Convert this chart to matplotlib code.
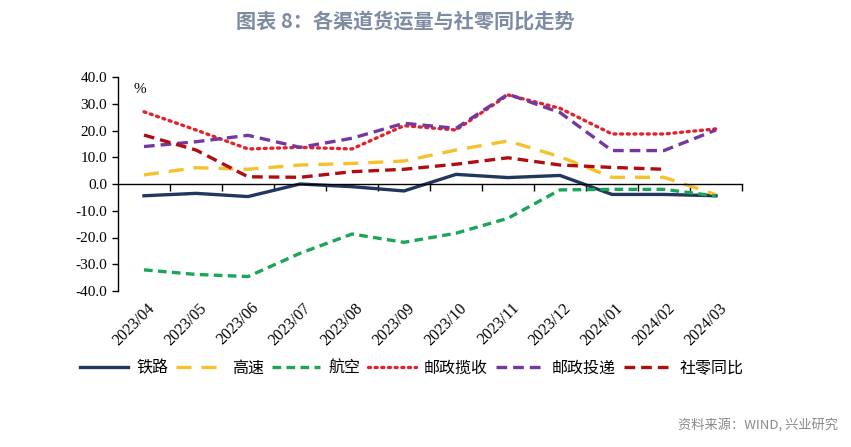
import numpy as np
import matplotlib
matplotlib.use('Agg')
import matplotlib.pyplot as plt

plt.rcParams['font.family'] = ['Noto Sans CJK SC', 'DejaVu Sans']

# Data (%).
months = ['2023/04', '2023/05', '2023/06', '2023/07', '2023/08', '2023/09',
          '2023/10', '2023/11', '2023/12', '2024/01', '2024/02', '2024/03']
railway = [-4.4, -3.5, -4.7, 0.0, -1.0, -2.6, 3.6, 2.4, 3.2, -3.9, -3.9, -4.4]
highway = [3.4, 6.1, 5.5, 7.1, 7.7, 8.6, 12.7, 16.1, 10.2, 2.5, 2.5, -4.0]
aviation = [-32.1, -33.8, -34.6, -25.9, -18.7, -21.8, -18.4, -12.8, -2.2, -2.0, -2.0, -4.5]
post_collect = [27.0, 20.2, 13.1, 13.7, 13.1, 21.8, 20.2, 33.3, 28.3, 18.7, 18.7, 20.6]
post_deliver = [14.0, 15.8, 18.2, 13.7, 17.1, 22.7, 20.8, 33.6, 26.7, 12.5, 12.5, 20.2]
retail = [18.3, 12.7, 2.7, 2.5, 4.6, 5.5, 7.4, 9.8, 7.1, 6.2, 5.5, np.nan]

x = np.arange(len(months))

fig = plt.figure(figsize=(8.51, 4.47), dpi=100)
ax = fig.add_axes([118/851, 1 - 291/447, (742 - 118)/851, (291 - 77)/447])

lw = 2.4
ax.plot(x, railway, color='#22375e', lw=lw, label='铁路')
ax.plot(x, highway, color='#f6c12b', lw=lw, dashes=(4.5, 3), label='高速')
ax.plot(x, aviation, color='#1aa656', lw=lw, dashes=(2.6, 1.6), label='航空')
ax.plot(x, post_collect, color='#e3222b', lw=lw, dashes=(0.6, 1.4),
        dash_capstyle='round', label='邮政揽收')
ax.plot(x, post_deliver, color='#7438a0', lw=lw, dashes=(3.2, 1.8), label='邮政投递')
ax.plot(x, retail, color='#b00d10', lw=lw, dashes=(3.2, 1.8), label='社零同比')

# Axes styling.
ax.set_xlim(-0.5, len(months) - 0.5)
ax.set_ylim(-40, 40)
ax.set_yticks(np.arange(-40, 41, 10))
ax.set_yticklabels([f'{v:.1f}' for v in np.arange(-40, 41, 10)],
                   family='Liberation Serif', fontsize=11)
ax.tick_params(axis='y', direction='out', length=4, width=1, pad=4)
for s in ['top', 'right']:
    ax.spines[s].set_visible(False)
ax.spines['bottom'].set_position(('data', 0))
ax.spines['left'].set_linewidth(1)
ax.spines['bottom'].set_linewidth(1)
ax.set_xticks(np.arange(len(months)) + 0.5)
ax.set_xticklabels([])
ax.tick_params(axis='x', direction='out', length=5, width=1)

# Category labels under the plot area.
for i, m in enumerate(months):
    ax.annotate(m, xy=(i, -40), xytext=(3, -9), textcoords='offset pixels',
                rotation=45, ha='right', va='top', rotation_mode='anchor',
                family='Liberation Serif', fontsize=11.5)

ax.text(0.025, 0.97, '%', transform=ax.transAxes, ha='left', va='top',
        family='Liberation Serif', fontsize=11)

fig.legend(loc='center', bbox_to_anchor=(412/851, 1 - 368/447), ncol=6,
           frameon=False, fontsize=11.5, handlelength=3.0, columnspacing=0.5,
           handletextpad=0.5)

fig.text(405/851, 1 - 22/447, '图表 8：各渠道货运量与社零同比走势', ha='center',
         va='center', fontsize=14.5, fontweight='bold', color='#7d8ba3')
fig.text(838/851, 1 - 425/447, '资料来源：WIND, 兴业研究', ha='right',
         va='center', fontsize=9.5, color='#8a8a8a')

fig.savefig('out.png', dpi=100)
